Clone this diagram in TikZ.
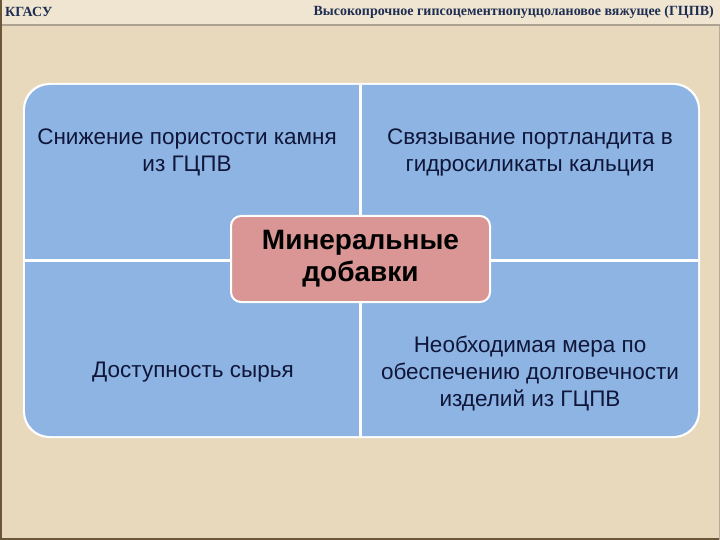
\documentclass[tikz,border=0pt]{standalone}
\usepackage{fontspec}
\setmainfont{Liberation Sans}
\newfontfamily\serifb{Liberation Serif}
\definecolor{parch}{HTML}{E8D8BC}
\definecolor{headbg}{HTML}{EFE5D0}
\definecolor{quad}{HTML}{8DB4E2}
\definecolor{pinkbox}{HTML}{D99694}
\definecolor{navy}{HTML}{10163A}
\definecolor{headcol}{HTML}{1E2D52}
\definecolor{frame}{HTML}{6B5638}
\tikzset{
  quadtext/.style={align=center, font=\fontsize{22.5}{27}\selectfont, text=navy, inner sep=0pt},
  centertext/.style={align=center, font=\fontsize{28}{32}\selectfont\bfseries, text=black, inner sep=0pt},
  headtext/.style={font=\serifb\bfseries\fontsize{14}{16}\selectfont, text=headcol, inner sep=0pt},
  divider/.style={white, line width=3pt}
}
\begin{document}
\begin{tikzpicture}[x=1pt,y=-1pt]
\useasboundingbox (0,0) rectangle (720,540);
\fill[parch] (0,0) rectangle (720,540);
\fill[headbg] (0,0) rectangle (720,24);
\draw[frame!55, line width=1.2pt] (0,25) -- (720,25);
\draw[frame, line width=2pt] (1,0) -- (1,540);
\draw[frame, line width=1.5pt] (0,539) -- (720,539);
\draw[frame!50, line width=1pt] (719.5,25) -- (719.5,540);
% outer rounded panel
\fill[white, rounded corners=26pt] (23,83) rectangle (700,438);
\fill[quad, rounded corners=25pt] (25,85) rectangle (698,436);
\draw[divider] (360,85) -- (360,436);
\draw[divider] (25,260) -- (698,260);
% center box
\node[draw=white, line width=2pt, fill=pinkbox, rounded corners=10pt, minimum width=259pt, minimum height=86pt, inner sep=0pt] (c) at (360.5,259) {};
\node[centertext] (ct) at (c.center) {Минеральные\\добавки};
% quadrant texts
\node[quadtext] (tl) at (187,152) {Снижение пористости камня\\из ГЦПВ};
\node[quadtext] (tr) at (530,152) {Связывание портландита в\\гидросиликаты кальция};
\node[quadtext] (bl) at (193,372) {Доступность сырья};
\node[quadtext] (br) at (530,373) {Необходимая мера по\\обеспечению долговечности\\изделий из ГЦПВ};
% header
\node[headtext, anchor=west] (h1) at (5,12) {КГАСУ};
\node[headtext, anchor=east] (h2) at (714,12) {Высокопрочное гипсоцементнопуццолановое вяжущее (ГЦПВ)};
\end{tikzpicture}
\end{document}
